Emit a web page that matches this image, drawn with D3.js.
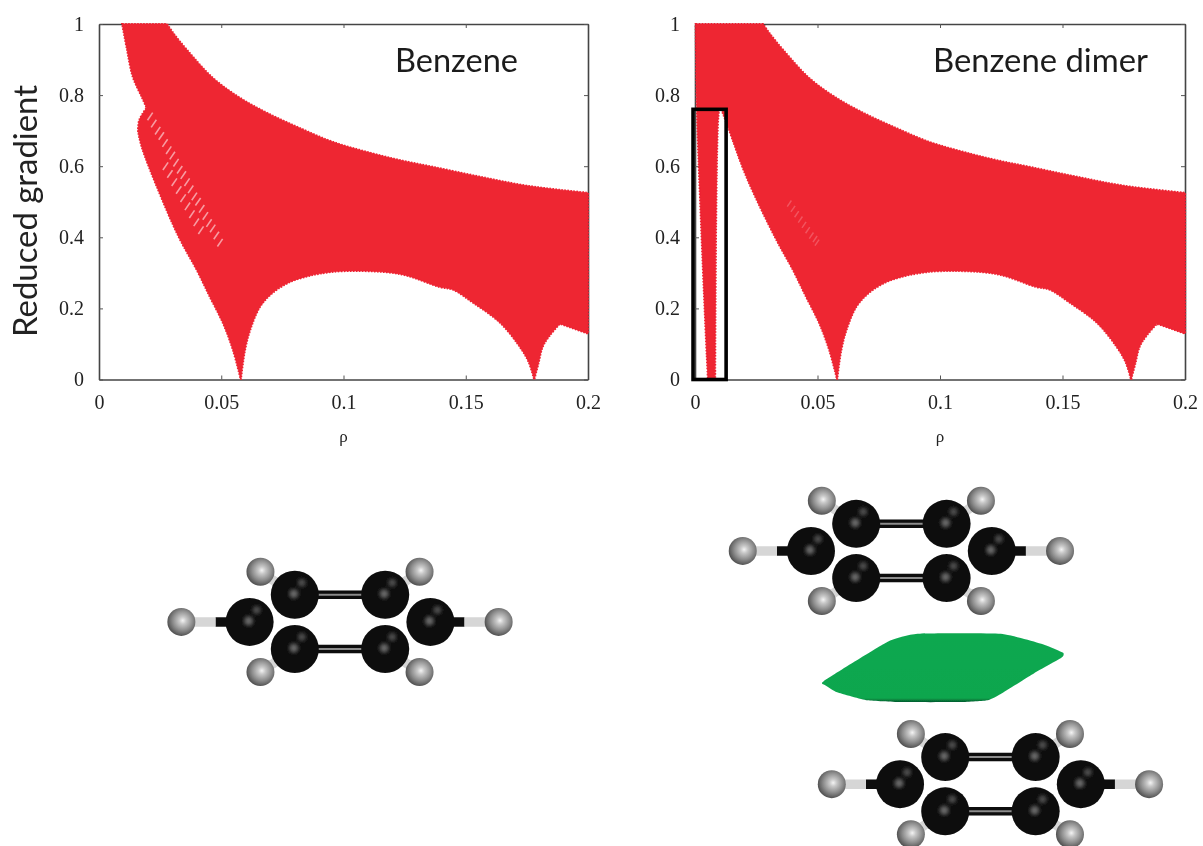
<!DOCTYPE html>
<html><head><meta charset="utf-8">
<style>html,body{margin:0;padding:0;background:#fff}svg{display:block}</style>
<script src="https://cdn.jsdelivr.net/npm/d3@7"></script></head><body>
<script>
// ---------- data ----------
const xTicks=[0,0.05,0.1,0.15,0.2];
const yTicks=[0,0.2,0.4,0.6,0.8,1];
const xTickLabels=["0","0.05","0.1","0.15","0.2"];
const yTickLabels=["0","0.2","0.4","0.6","0.8","1"];
const upperRho=[.0278,.0303,.036,.0466,.0577,.0687,.0822,.0957,.1096,.123,.1366,.1546,.175,.2];
const upperS=[1,.975,.927,.848,.792,.75,.707,.668,.64,.617,.598,.572,.545,.525];
const lowerRhoRight=[.2,.1885,.1845,.1815,.1797,.178,.1757,.172,.164,.153,.1447,.1395,.123,.1,.0904,.085,.078,.0712,.0658,.0618,.0597,.058];
const lowerSRight=[.129,.157,.125,.093,.045,0,.05,.093,.16,.216,.253,.26,.297,.305,.298,.29,.274,.245,.204,.139,.083,0];
const benzeneLowerRho=[.0548,.0507,.0454,.04,.0327,.0237,.0175,.016,.0165,.0195,.0175,.0139,.0115,.0095];
const benzeneLowerS=[.083,.159,.232,.308,.40,.542,.654,.697,.73,.764,.795,.85,.927,1];
const dimerLowerRho=[.0548,.0507,.0454,.04,.0327,.021,.0135,.0102,.0095,.0082,.0053,.0042,.0022,.0008,.0003];
const dimerLowerS=[.083,.159,.232,.308,.40,.57,.71,.77,.74,0,0,.16,.49,.76,1];
const cuspRho=[.0278,.2,.2,.1885,.178,.058,.016,.0195,.0095,.0102,.0082,.0053,.0003];
const cuspS=[1,.525,.129,.157,0,0,.697,.764,1,.77,0,0,1];
const hatchRho=[.0209,.0224,.0240,.0255,.0270,.0285,.0300,.0315,.0330,.0345,.0360,.0375,.0390,.0405,.0420,.0435,.0450,.0465,.0480,.0495,.0272,.029,.0308,.0326,.0344,.0362,.038,.0398,.0417];
const hatchS=[.74,.72,.70,.685,.665,.645,.63,.61,.59,.575,.555,.535,.515,.50,.48,.46,.44,.425,.405,.385,.60,.578,.555,.533,.51,.487,.465,.442,.42];
const dimerHatchRho=[.0385,.0400,.0415,.0430,.0445,.0460,.0475,.0490,.0498];
const dimerHatchS=[.495,.48,.465,.45,.435,.42,.405,.395,.385];
const boxRho=[-.0008,.0127];
const boxS=[0,.76];
const carbonX=[-1,1,-2,2,-1,1];
const carbonY=[-.6,-.6,0,0,.6,.6];
const hydrogenX=[-3.51,3.51,-1.76,1.76,-1.76,1.76];
const hydrogenY=[0,0,-1.11,-1.11,1.11,1.11];
const carbonPartner=[2,3,0,1,4,5];
const moleculeX=[6.77,19.19,21.16];
const moleculeY=[12.83,11.26,16.42];
const isoX=[18.31,19.71,20.38,22.22,23.18,23.6,23.56,22.96,22.22,21.93,21.33,20.0,19.27,18.6,18.33];
const isoY=[15.13,14.27,14.09,14.09,14.33,14.51,14.62,14.96,15.42,15.56,15.6,15.6,15.56,15.38,15.22];
// ---------- scaffolding ----------
const W=1203,H=846;
const svg=d3.select("body").append("svg").attr("width",W).attr("height",H);
const defs=svg.append("defs");
defs.append("filter").attr("id","soft").attr("x","-5%").attr("y","-5%").attr("width","110%").attr("height","110%")
  .append("feGaussianBlur").attr("stdDeviation",.5);
defs.append("filter").attr("id","spot").attr("x","-100%").attr("y","-100%").attr("width","300%").attr("height","300%")
  .append("feGaussianBlur").attr("stdDeviation",2.2);
const gh=defs.append("radialGradient").attr("id","hball").attr("cx","55%").attr("cy","45%").attr("r","58%");
[["0%","#f4f4f4"],["22%","#c8c8c8"],["60%","#8e8e8e"],["100%","#4a4a4a"]].forEach(s=>gh.append("stop").attr("offset",s[0]).attr("stop-color",s[1]));
const gi=defs.append("linearGradient").attr("id","iso").attr("x1","0").attr("y1","0").attr("x2","0").attr("y2","1");
[["0%","#0aa850"],["94%","#0aa64e"],["100%","#04552a"]].forEach(s=>gi.append("stop").attr("offset",s[0]).attr("stop-color",s[1]));
const root=svg.append("g").attr("filter","url(#soft)");
const RED="#ee2532",SERIF="'Liberation Serif',serif",SANS="Lato,'Open Sans',sans-serif";
const y=d3.scaleLinear().domain([0,1]).range([379.5,24]);
const isCusp=(r,v)=>cuspRho.some((c,i)=>c===r&&cuspS[i]===v);
const panels=[
 {x0:99,x1:588,lowerRho:benzeneLowerRho,lowerS:benzeneLowerS,hRho:hatchRho,hS:hatchS,hOp:.55,hW:1.6,hL:1,title:"Benzene",tx:395,tlen:123},
 {x0:695,x1:1185,lowerRho:dimerLowerRho,lowerS:dimerLowerS,hRho:dimerHatchRho,hS:dimerHatchS,hOp:.22,hW:1.5,hL:.8,title:"Benzene dimer",tx:933,tlen:215}
];
panels.forEach((p,i)=>{
  const x=d3.scaleLinear().domain([0,.2]).range([p.x0,p.x1]);
  const g=root.append("g");
  const frame=g.append("g");
  const ax=(o,tx,ty)=>frame.append("g").attr("transform",`translate(${tx},${ty})`).call(o);
  ax(d3.axisBottom(x).tickValues(xTicks).tickFormat((d,k)=>xTickLabels[k]).tickSizeInner(-4).tickSizeOuter(0).tickPadding(15),0,y(0));
  ax(d3.axisTop(x).tickValues(xTicks).tickFormat("").tickSizeInner(-4).tickSizeOuter(0),0,y(1));
  ax(d3.axisLeft(y).tickValues(yTicks).tickFormat((d,k)=>yTickLabels[k]).tickSizeInner(-4).tickSizeOuter(0).tickPadding(15),p.x0,0);
  ax(d3.axisRight(y).tickValues(yTicks).tickFormat("").tickSizeInner(-4).tickSizeOuter(0),p.x1,0);
  frame.selectAll("path.domain").attr("stroke","#444").attr("stroke-width",1.6);
  frame.selectAll("line").attr("stroke","#555").attr("stroke-width",1);
  frame.selectAll("text").attr("font-family",SERIF).attr("font-size",20).attr("fill","#222");
  // envelope of the scatter cloud, smooth between its cusps
  const rho=[...p.lowerRho.slice(-1),...upperRho,...lowerRhoRight,...p.lowerRho];
  const s=[...p.lowerS.slice(-1),...upperS,...lowerSRight,...p.lowerS];
  const pts=rho.map((r,k)=>({r,v:s[k]}));
  const seg=d3.line().x(d=>x(d.r)).y(d=>y(d.v)).curve(d3.curveCatmullRom.alpha(.5));
  let d="",cur=[pts[0]];
  pts.slice(1).forEach((pt,k)=>{cur.push(pt);
    if(isCusp(pt.r,pt.v)||k===pts.length-2){const t=seg(cur);d+=d?"L"+t.slice(1):t;cur=[pt];}});
  d+="Z";
  // serrated rim of the overlapping plot symbols
  g.append("path").attr("d",d).attr("fill","none").attr("stroke",RED).attr("stroke-width",2.2).attr("stroke-dasharray","1.5 1.5");
  g.append("path").attr("d",d).attr("fill",RED).attr("stroke",RED).attr("stroke-width",.8).attr("stroke-linejoin","round");
  g.selectAll("line.hatch").data(p.hRho).join("line").attr("class","hatch")
    .attr("x1",dd=>x(dd)-2.6*p.hL).attr("y1",(dd,k)=>y(p.hS[k])+3.8*p.hL)
    .attr("x2",dd=>x(dd)+2.6*p.hL).attr("y2",(dd,k)=>y(p.hS[k])-3.8*p.hL)
    .attr("stroke","#fff").attr("stroke-opacity",p.hOp).attr("stroke-width",p.hW);
  g.append("text").attr("x",p.tx).attr("y",72).attr("font-family",SANS).attr("font-size",32).attr("fill","#1c1c1c")
    .attr("textLength",p.tlen).attr("lengthAdjust","spacingAndGlyphs").text(p.title);
  g.append("text").attr("x",(p.x0+p.x1)/2).attr("y",442).attr("text-anchor","middle").attr("font-family",SERIF).attr("font-size",17).attr("fill","#222").text("ρ");
  if(i===1){
    g.append("rect").attr("x",x(boxRho[0])).attr("y",y(boxS[1])).attr("width",x(boxRho[1])-x(boxRho[0])).attr("height",y(boxS[0])-y(boxS[1]))
      .attr("fill","none").attr("stroke","#000").attr("stroke-width",3.6);
  }
});
root.append("text").attr("transform","translate(37,211) rotate(-90)").attr("text-anchor","middle")
  .attr("font-family",SANS).attr("font-size",32).attr("fill","#222").attr("textLength",252).attr("lengthAdjust","spacingAndGlyphs").text("Reduced gradient");
// ---------- molecules ----------
const u=d3.scaleLinear().domain([0,1]).range([0,45.2]);
function molecule(cx,cy){
  const m=root.append("g").attr("transform",`translate(${cx},${cy})`);
  [[0,1],[4,5]].forEach(b=>{
    [[8.5,"#0c0c0c"],[2,"#8c8c8c"]].forEach(st=>m.append("line")
      .attr("x1",u(carbonX[b[0]])).attr("x2",u(carbonX[b[1]])).attr("y1",u(carbonY[b[0]])).attr("y2",u(carbonY[b[1]]))
      .attr("stroke",st[1]).attr("stroke-width",st[0]));
  });
  hydrogenX.forEach((hx,k)=>{
    const c=carbonPartner[k],flat=hydrogenY[k]===carbonY[c],f=flat?.5:.85;
    const mx=hx+(carbonX[c]-hx)*f,my=hydrogenY[k]+(carbonY[c]-hydrogenY[k])*f;
    m.append("line").attr("x1",u(mx)).attr("y1",u(my)).attr("x2",u(carbonX[c])).attr("y2",u(carbonY[c])).attr("stroke","#0c0c0c").attr("stroke-width",9.5);
    m.append("line").attr("x1",u(hx)).attr("y1",u(hydrogenY[k])).attr("x2",u(mx)).attr("y2",u(my)).attr("stroke","#d6d6d6").attr("stroke-width",9.5);
  });
  hydrogenX.forEach((hx,k)=>m.append("circle").attr("cx",u(hx)).attr("cy",u(hydrogenY[k])).attr("r",14).attr("fill","url(#hball)"));
  carbonX.forEach((c,k)=>{
    m.append("circle").attr("cx",u(c)).attr("cy",u(carbonY[k])).attr("r",24).attr("fill","#090909");
    m.append("circle").attr("cx",u(c)-1).attr("cy",u(carbonY[k])-1).attr("r",4.6).attr("fill","#6e6e6e").attr("filter","url(#spot)");
    m.append("circle").attr("cx",u(c)+7).attr("cy",u(carbonY[k])-12).attr("r",4).attr("fill","#555").attr("filter","url(#spot)");
  });
}
moleculeX.forEach((mx,k)=>molecule(u(mx)+34,u(moleculeY[k])+42));
// ---------- interaction isosurface ----------
const isoLine=d3.line().x((d,k)=>u(isoX[k])).y((d,k)=>u(isoY[k])).curve(d3.curveCardinalClosed.tension(.55));
root.append("path").attr("transform","translate(-3.6,-3)").attr("d",isoLine(isoX)).attr("fill","url(#iso)");
</script></body></html>
